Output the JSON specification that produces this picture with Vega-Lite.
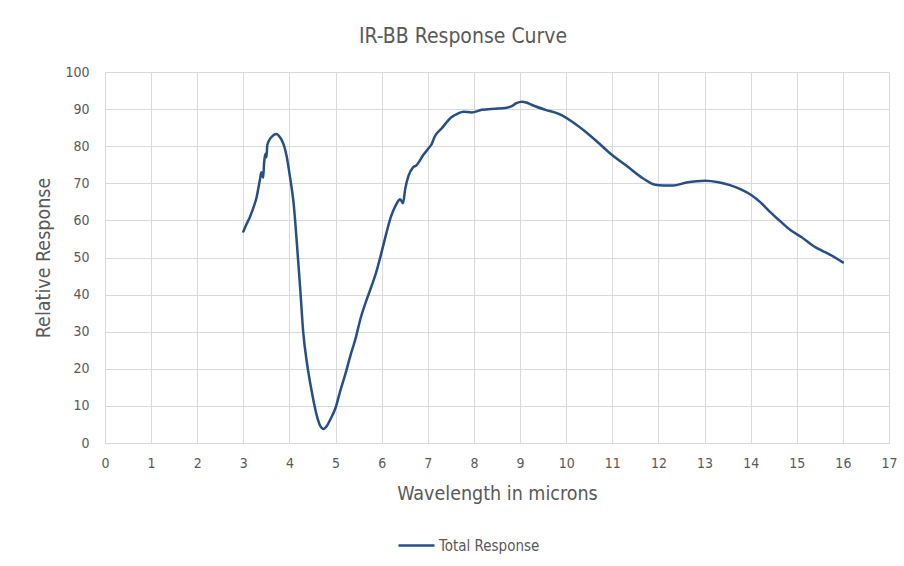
{
  "$schema": "https://vega.github.io/schema/vega-lite/v6.json",
  "autosize": "none",
  "width": 784,
  "height": 371,
  "padding": {"left": 105, "top": 72, "right": 15, "bottom": 123},
  "background": "white",
  "title": {
    "text": "IR-BB Response Curve",
    "anchor": "middle",
    "dx": -34,
    "offset": 18,
    "fontSize": 21,
    "fontWeight": "normal",
    "color": "#595959",
    "font": "Liberation Sans Narrow, DejaVu Sans Condensed, sans-serif"
  },
  "config": {
    "view": {"stroke": null},
    "font": "Liberation Sans Narrow, DejaVu Sans Condensed, sans-serif",
    "axis": {
      "gridColor": "#d9d9d9",
      "gridWidth": 1,
      "labelColor": "#595959",
      "titleColor": "#595959",
      "labelFontSize": 14,
      "titleFontSize": 19.5,
      "titleFontWeight": "normal",
      "ticks": false,
      "domain": false
    }
  },
  "data": {
    "values": [
      {"wavelength": 3.0, "response": 57, "series": "Total Response"},
      {"wavelength": 3.07, "response": 59, "series": "Total Response"},
      {"wavelength": 3.145, "response": 61, "series": "Total Response"},
      {"wavelength": 3.22, "response": 63.5, "series": "Total Response"},
      {"wavelength": 3.29, "response": 66.4, "series": "Total Response"},
      {"wavelength": 3.33, "response": 69, "series": "Total Response"},
      {"wavelength": 3.36, "response": 71, "series": "Total Response"},
      {"wavelength": 3.39, "response": 73, "series": "Total Response"},
      {"wavelength": 3.41, "response": 72.5, "series": "Total Response"},
      {"wavelength": 3.43, "response": 71.5, "series": "Total Response"},
      {"wavelength": 3.45, "response": 75.5, "series": "Total Response"},
      {"wavelength": 3.47, "response": 77.5, "series": "Total Response"},
      {"wavelength": 3.49, "response": 78, "series": "Total Response"},
      {"wavelength": 3.5, "response": 77, "series": "Total Response"},
      {"wavelength": 3.52, "response": 80.3, "series": "Total Response"},
      {"wavelength": 3.57, "response": 81.8, "series": "Total Response"},
      {"wavelength": 3.62, "response": 82.6, "series": "Total Response"},
      {"wavelength": 3.67, "response": 83.1, "series": "Total Response"},
      {"wavelength": 3.72, "response": 83.3, "series": "Total Response"},
      {"wavelength": 3.77, "response": 82.8, "series": "Total Response"},
      {"wavelength": 3.83, "response": 81.7, "series": "Total Response"},
      {"wavelength": 3.89, "response": 79.8, "series": "Total Response"},
      {"wavelength": 3.94, "response": 77.2, "series": "Total Response"},
      {"wavelength": 4.01, "response": 71.8, "series": "Total Response"},
      {"wavelength": 4.05, "response": 68.5, "series": "Total Response"},
      {"wavelength": 4.09, "response": 64.6, "series": "Total Response"},
      {"wavelength": 4.16, "response": 53.9, "series": "Total Response"},
      {"wavelength": 4.23, "response": 42.1, "series": "Total Response"},
      {"wavelength": 4.3, "response": 29.6, "series": "Total Response"},
      {"wavelength": 4.38, "response": 21.5, "series": "Total Response"},
      {"wavelength": 4.49, "response": 13.4, "series": "Total Response"},
      {"wavelength": 4.59, "response": 7.5, "series": "Total Response"},
      {"wavelength": 4.66, "response": 4.8, "series": "Total Response"},
      {"wavelength": 4.74, "response": 3.8, "series": "Total Response"},
      {"wavelength": 4.81, "response": 4.6, "series": "Total Response"},
      {"wavelength": 4.88, "response": 6.2, "series": "Total Response"},
      {"wavelength": 5.0, "response": 9.5, "series": "Total Response"},
      {"wavelength": 5.1, "response": 14, "series": "Total Response"},
      {"wavelength": 5.21, "response": 18.5, "series": "Total Response"},
      {"wavelength": 5.32, "response": 23.5, "series": "Total Response"},
      {"wavelength": 5.43, "response": 28, "series": "Total Response"},
      {"wavelength": 5.54, "response": 33.5, "series": "Total Response"},
      {"wavelength": 5.67, "response": 38.5, "series": "Total Response"},
      {"wavelength": 5.8, "response": 43, "series": "Total Response"},
      {"wavelength": 5.88, "response": 46, "series": "Total Response"},
      {"wavelength": 5.99, "response": 51.1, "series": "Total Response"},
      {"wavelength": 6.1, "response": 56.5, "series": "Total Response"},
      {"wavelength": 6.2, "response": 61, "series": "Total Response"},
      {"wavelength": 6.31, "response": 64.2, "series": "Total Response"},
      {"wavelength": 6.4, "response": 65.7, "series": "Total Response"},
      {"wavelength": 6.46, "response": 64.6, "series": "Total Response"},
      {"wavelength": 6.51, "response": 68.5, "series": "Total Response"},
      {"wavelength": 6.58, "response": 72, "series": "Total Response"},
      {"wavelength": 6.68, "response": 74.3, "series": "Total Response"},
      {"wavelength": 6.75, "response": 74.8, "series": "Total Response"},
      {"wavelength": 6.9, "response": 77.6, "series": "Total Response"},
      {"wavelength": 7.02, "response": 79.5, "series": "Total Response"},
      {"wavelength": 7.08, "response": 80.5, "series": "Total Response"},
      {"wavelength": 7.15, "response": 82.6, "series": "Total Response"},
      {"wavelength": 7.3, "response": 84.8, "series": "Total Response"},
      {"wavelength": 7.51, "response": 87.8, "series": "Total Response"},
      {"wavelength": 7.65, "response": 88.8, "series": "Total Response"},
      {"wavelength": 7.77, "response": 89.3, "series": "Total Response"},
      {"wavelength": 7.95, "response": 89.1, "series": "Total Response"},
      {"wavelength": 8.17, "response": 89.8, "series": "Total Response"},
      {"wavelength": 8.46, "response": 90.1, "series": "Total Response"},
      {"wavelength": 8.68, "response": 90.3, "series": "Total Response"},
      {"wavelength": 8.82, "response": 90.8, "series": "Total Response"},
      {"wavelength": 8.92, "response": 91.6, "series": "Total Response"},
      {"wavelength": 9.04, "response": 92, "series": "Total Response"},
      {"wavelength": 9.15, "response": 91.7, "series": "Total Response"},
      {"wavelength": 9.26, "response": 91.1, "series": "Total Response"},
      {"wavelength": 9.55, "response": 89.8, "series": "Total Response"},
      {"wavelength": 9.84, "response": 88.7, "series": "Total Response"},
      {"wavelength": 10.13, "response": 86.6, "series": "Total Response"},
      {"wavelength": 10.42, "response": 83.9, "series": "Total Response"},
      {"wavelength": 10.71, "response": 80.8, "series": "Total Response"},
      {"wavelength": 10.95, "response": 78.1, "series": "Total Response"},
      {"wavelength": 11.31, "response": 74.7, "series": "Total Response"},
      {"wavelength": 11.67, "response": 71.3, "series": "Total Response"},
      {"wavelength": 11.93, "response": 69.6, "series": "Total Response"},
      {"wavelength": 12.1, "response": 69.4, "series": "Total Response"},
      {"wavelength": 12.32, "response": 69.4, "series": "Total Response"},
      {"wavelength": 12.61, "response": 70.2, "series": "Total Response"},
      {"wavelength": 13.01, "response": 70.7, "series": "Total Response"},
      {"wavelength": 13.3, "response": 70.3, "series": "Total Response"},
      {"wavelength": 13.55, "response": 69.5, "series": "Total Response"},
      {"wavelength": 13.8, "response": 68.3, "series": "Total Response"},
      {"wavelength": 14.02, "response": 66.8, "series": "Total Response"},
      {"wavelength": 14.22, "response": 64.8, "series": "Total Response"},
      {"wavelength": 14.42, "response": 62.3, "series": "Total Response"},
      {"wavelength": 14.64, "response": 59.8, "series": "Total Response"},
      {"wavelength": 14.86, "response": 57.4, "series": "Total Response"},
      {"wavelength": 15.1, "response": 55.5, "series": "Total Response"},
      {"wavelength": 15.36, "response": 53.1, "series": "Total Response"},
      {"wavelength": 15.55, "response": 51.8, "series": "Total Response"},
      {"wavelength": 15.73, "response": 50.7, "series": "Total Response"},
      {"wavelength": 16.0, "response": 48.7, "series": "Total Response"}
    ]
  },
  "mark": {"type": "line", "interpolate": "monotone", "strokeWidth": 2.5, "strokeCap": "round", "strokeJoin": "round"},
  "encoding": {
    "x": {
      "field": "wavelength",
      "type": "quantitative",
      "scale": {"domain": [0, 17], "nice": false, "zero": false},
      "axis": {
        "values": [0,1,2,3,4,5,6,7,8,9,10,11,12,13,14,15,16,17],
        "title": "Wavelength in microns",
        "labelPadding": 13,
        "titlePadding": 14,
        "domain": true,
        "domainColor": "#d9d9d9",
        "labelFlush": false
      }
    },
    "y": {
      "field": "response",
      "type": "quantitative",
      "scale": {"domain": [0, 100], "nice": false},
      "axis": {
        "values": [0,10,20,30,40,50,60,70,80,90,100],
        "title": "Relative Response",
        "labelPadding": 16,
        "titlePadding": 11,
        "labelFlush": false
      }
    },
    "color": {
      "field": "series",
      "type": "nominal",
      "scale": {"domain": ["Total Response"], "range": ["#264f87"]},
      "legend": {
        "title": null,
        "orient": "none",
        "legendX": 292,
        "legendY": 454,
        "symbolType": "stroke",
        "symbolSize": 1300,
        "symbolStrokeWidth": 2.5,
        "labelOffset": 3,
        "labelFontSize": 15,
        "labelColor": "#595959"
      }
    }
  }
}
